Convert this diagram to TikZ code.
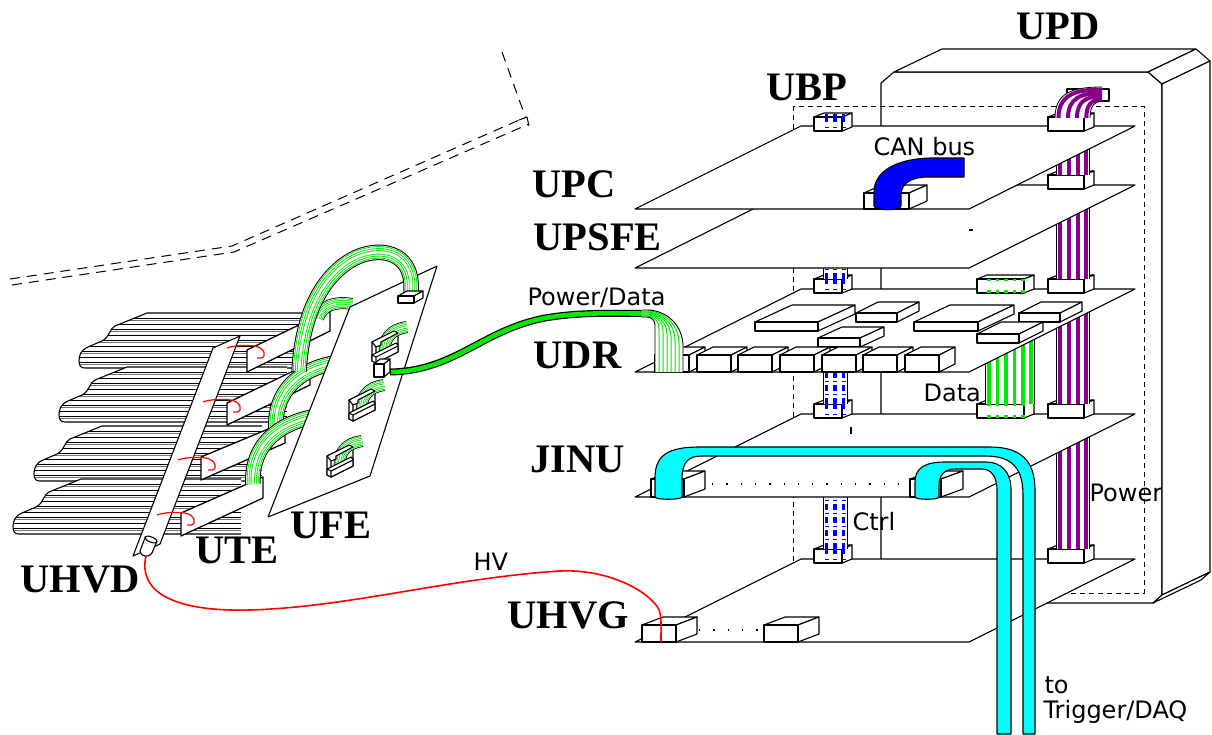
\documentclass[tikz,border=0pt]{standalone}
\usepackage{fontspec}
\setmainfont{Liberation Serif}
\newfontfamily\smallsans{DejaVu Sans}
\usetikzlibrary{calc}

\definecolor{ribgreen}{RGB}{0,235,0}
\definecolor{ribblue}{RGB}{0,0,255}
\definecolor{ribpurple}{RGB}{136,0,136}
\definecolor{cablecyan}{RGB}{0,255,255}
\definecolor{hvred}{RGB}{255,0,0}

\tikzset{
  big/.style={font=\bfseries\fontsize{40.5}{44}\selectfont, inner sep=0pt, anchor=base west},
  small/.style={font=\smallsans\fontsize{24}{26}\selectfont, inner sep=0pt, anchor=base west},
}

% 3-D box: x, y (top of front face), width, height, depth dx, depth dy
\newcommand\pcube[6]{%
  \draw[fill=white] (#1,#2) -- ++(#5,#6) -- ++(#3,0) -- ++({-(#5)},{-(#6)}) -- cycle;
  \draw[fill=white] (#1+#3,#2) -- ++(#5,#6) -- ++(0,#4) -- ++({-(#5)},{-(#6)}) -- cycle;
  \draw[fill=white] (#1,#2) rectangle ++(#3,#4);}
% board of the crate, given the y of its front edge
\newcommand\board[1]{\draw[fill=white] (635,#1) -- (969,#1) -- (1135,#1-83) -- (801,#1-83) -- cycle;}
% connector sitting on the back edge of a board
\newcommand\econn[3]{\pcube{#1}{#3-10}{#2}{14}{10}{-4}}
\newcommand\uconn[1]{\econn{814}{28}{#1}%
  \foreach \c in {826.5,835,843.5}{\fill[ribblue] (\c-1.8,#1-13) rectangle (\c+1.8,#1-5);
    \fill[ribblue] (\c-2,#1) rectangle (\c+2,#1+1);}}
\newcommand\pconn[1]{\econn{1048}{36}{#1}}
\newcommand\dconn[1]{\econn{977}{47}{#1}%
  \foreach \c in {989,997.5,1006,1014.5,1023}{\fill[ribgreen] (\c-1.8,#1-10) rectangle (\c+1.8,#1-8);
    \fill[ribgreen] (\c-1.8,#1+0.5) rectangle (\c+1.8,#1+3.5);}}
% vertical ribbon pieces between boards
\newcommand\pseg[2]{%
  \fill[white] (1056,#1) rectangle (1089,#2);
  \foreach \c in {1060,1069,1077.5,1086}{\fill[ribpurple] (\c-2,#1) rectangle (\c+2,#2);}
  \draw[line width=0.8pt] (1056,#1) -- (1056,#2) (1089,#1) -- (1089,#2);}
\newcommand\bseg[2]{%
  \fill[white] (823,#1) rectangle (847,#2);
  \foreach \c in {826.5,835,843.5}{%
    \draw[ribblue, line width=3.5pt, dash pattern=on 6pt off 7pt] (\c,#2) -- (\c,#1);
    \draw[ribblue, line width=4pt, dash pattern=on 1pt off 12pt, dash phase=4pt] (\c,#2) -- (\c,#1);}
  \draw[line width=0.8pt] (823,#1) -- (823,#2) (847,#1) -- (847,#2);}
\newcommand\gseg[2]{%
  \fill[white] (985,#1) rectangle (1034,#2);
  \foreach \c in {989,997.5,1006,1014.5,1023,1031}{\fill[ribgreen] (\c-1.8,#1) rectangle (\c+1.8,#2);}
  \draw[line width=0.8pt] (985,#1) -- (985,#2) (1034,#1) -- (1034,#2);}
% flat green ribbon along a path
\newcommand\gribbon[1]{%
  \draw[line width=15.5pt, black] #1;
  \draw[line width=13.5pt, white] #1;
  \draw[line width=12.4pt, ribgreen] #1;
  \draw[line width=10.6pt, white] #1;
  \draw[line width=8.4pt, ribgreen] #1;
  \draw[line width=6.6pt, white] #1;
  \draw[line width=4.4pt, ribgreen] #1;
  \draw[line width=2.6pt, white] #1;}
\newcommand\gribbonS[1]{%
  \draw[line width=12pt, black] #1;
  \draw[line width=10.4pt, white] #1;
  \draw[line width=9.4pt, ribgreen] #1;
  \draw[line width=7.8pt, white] #1;
  \draw[line width=6.2pt, ribgreen] #1;
  \draw[line width=4.6pt, white] #1;
  \draw[line width=3pt, ribgreen] #1;
  \draw[line width=1.4pt, white] #1;}
% one ribbed sheet of the detector, top-left corner given
\newcommand\sheetpath{(0,0) -- (-32,13) .. controls (-38,16) and (-37,24) .. (-45,28) -- (-59,34) .. controls (-66,37) and (-68,42) .. (-68,48) .. controls (-68,53) and (-66,55) .. (-62,55)}
\newcommand\sheet[2]{%
  \begin{scope}[shift={(#1,#2)}]
    \fill[white] \sheetpath -- (160,55) -- (160,0) -- cycle;
    \begin{scope}
      \clip \sheetpath -- (160,55) -- (160,0) -- cycle;
      \foreach \k in {1,...,9}{\draw[line width=0.8pt] (-70,5.5*\k) -- (160,5.5*\k);}
      \foreach \k in {1,3,5,7,9}{\draw[black!55, line width=0.8pt] (-70,5.5*\k+1.8) -- (160,5.5*\k+1.8);}
    \end{scope}
    \draw (160,0) -- \sheetpath -- (160,55);
  \end{scope}}
% C-shaped ribbon connector on the front-end board
\newcommand\cconn[2]{%
  \draw[fill=white] (#1,#2+16) -- (#1+22,#2+5) -- (#1+26,#2+7) -- (#1+26,#2+26) -- (#1+4,#2+37) -- (#1,#2+35) -- cycle;
  \gribbonS{(#1+35,#2+1) .. controls (#1+20,#2+3) and (#1+11,#2+12) .. (#1+13,#2+27)}
  \draw[fill=white] (#1,#2+16) -- (#1+22,#2+5) -- (#1+26,#2+7) -- (#1+9,#2+16) -- (#1+9,#2+19) -- (#1+4,#2+21) -- cycle;
  \draw[fill=white] (#1,#2+29) -- (#1+4,#2+27) -- (#1+24,#2+17) -- (#1+26,#2+19) -- (#1+26,#2+26) -- (#1+4,#2+37) -- (#1,#2+35) -- cycle;
  \draw (#1+4,#2+21) -- (#1+4,#2+27) (#1+4,#2+31) -- (#1+26,#2+20) (#1+4,#2+31) -- (#1+4,#2+37) (#1,#2+29) -- (#1+4,#2+31);}
\newcommand\hook[2]{\draw[hvred, line width=1.2pt] (#1,#2) .. controls (#1+8,#2-3) and (#1+20,#2-3) .. (#1+28,#2-2) .. controls (#1+38,#2) and (#1+40,#2+9) .. (#1+34,#2+10) -- (#1+30,#2+10);}

\begin{document}
\begin{tikzpicture}[x=1pt,y=-1pt,line width=1.1pt,line join=round]
\useasboundingbox (0,0) rectangle (1212,734);

% ---------------- outline of the detector envelope
\begin{scope}[line width=1pt, dash pattern=on 10pt off 7pt]
  \draw (10,279) -- (232,246) -- (526,117);
  \draw (12,285) -- (234,252) -- (529,124);
  \draw (502,52) -- (525,116);
\end{scope}
\draw[line width=1pt] (519,120) -- (527,117) -- (529,126);

% ---------------- detector sheets and front end
\sheet{147}{313}
\sheet{127}{367}
\sheet{102}{426}
\sheet{81}{479}

\draw[fill=white, line width=1.3pt] (247,350) -- (330,310) -- (330,331) -- (247,372) -- cycle;
\draw[fill=white, line width=1.3pt] (227,403) -- (310,363) -- (310,385) -- (227,425) -- cycle;
\draw[fill=white, line width=1.3pt] (201,457) -- (285,422) -- (285,443) -- (201,480) -- cycle;
\draw[fill=white, line width=1.3pt] (181,513) -- (263,477) -- (263,498) -- (181,536) -- cycle;

% HV distribution strip with its plug
\draw[fill=white] (213,348) -- (240,336) -- (160,544) -- (133,556) -- cycle;
\draw[fill=white] (145,538) -- (140,551) .. controls (140,557) and (150,558) .. (152,553) -- (157,541);
\draw[fill=white, rotate around={-22:(151,539.5)}] (151,539.5) ellipse (6.5 and 2.6);
\hook{227}{348}
\hook{203}{402}
\hook{178}{460}
\hook{157}{515}

% ribbons from the tail boards going behind the front-end board
\gribbonS{(318,318) .. controls (322,306) and (334,301) .. (352,304)}
\gribbon{(276,428) .. controls (274,398) and (292,371) .. (334,363)}
\gribbon{(253,484) .. controls (251,452) and (270,426) .. (312,417)}

% front-end board
\draw[fill=white] (350,307) -- (437,266) -- (370,476) -- (268,517) -- cycle;
\cconn{372}{326}
\cconn{349}{384}
\cconn{327}{440}

% ribbon over the top of the front-end board
\gribbon{(299,371) .. controls (302,320) and (318,282) .. (348,262) .. controls (372,246) and (408,248) .. (411,282) -- (411,298)}
\pcube{398}{296}{16}{7}{9}{-5}
\pcube{374}{364}{10}{13}{6}{-5}

% ---------------- crate
\draw[fill=white] (881,603) -- (881,83) -- (894,72) -- (1148,72) -- (1162,84) -- (1162,595) -- (1153,603) -- cycle;
\draw[fill=white] (894,72) -- (942,49) -- (1196,49) -- (1148,72) -- cycle;
\draw[fill=white] (1148,72) -- (1196,49) -- (1210,61) -- (1162,84) -- cycle;
\draw[fill=white] (1162,84) -- (1210,61) -- (1210,572) -- (1162,595) -- cycle;
\draw[fill=white] (1162,595) -- (1210,572) -- (1201,580) -- (1153,603) -- cycle;
\draw[line width=1pt, dash pattern=on 5pt off 4pt] (793,106) rectangle (1144,593);

% ---------------- UHVG
\board{642}
\uconn{559}
\pconn{559}
\pcube{642}{625}{34}{17}{21}{-8}
\pcube{764}{625}{34}{17}{21}{-8}
\draw[line width=1.3pt, dash pattern=on 1.3pt off 13pt] (699,630) -- (758,630);
\pseg{414}{549}
\bseg{414}{549}

% ---------------- JINU
\board{497}
\uconn{414}
\pconn{414}
\dconn{414}
\draw (851,427) -- (851,434);
\pcube{651}{479}{33}{18}{21}{-8}
\pcube{910}{479}{31}{18}{22}{-8}
\draw[line width=1.3pt, dash pattern=on 1.3pt off 13pt] (712,484) -- (908,484);
\pseg{289}{404}
\bseg{289}{404}
\gseg{289}{404}

% ---------------- UDR
\board{372}
\uconn{289}
\pconn{289}
\dconn{289}
\pcube{856}{313}{41}{9}{22}{-11}
\pcube{1019}{313}{41}{9}{22}{-11}
\pcube{755}{322}{63}{9}{37}{-17}
\pcube{914}{322}{64}{9}{36}{-17}
\pcube{977}{334}{42}{9}{24}{-12}
\pcube{818}{338}{42}{9}{24}{-11}
\foreach \x in {655,697,738,780,822,863,905}{\pcube{\x}{355}{34}{17}{16}{-8}}
\pseg{185}{279}
\bseg{185}{279}

% ---------------- UPSFE
\board{268}
\pconn{185}
\draw (969,230) -- (973,230);
\pseg{127}{175}

% ---------------- UPC
\board{209}
\uconn{127}
\pconn{127}
\draw[fill=white] (1067,89) rectangle (1109,101);
\fill[white] (1055,118) .. controls (1055,93) and (1072,87) .. (1102,87) -- (1102,101.5) .. controls (1094,101.5) and (1090,106) .. (1090,118) -- cycle;
\begin{scope}[ribpurple, line width=4pt]
  \draw (1058.5,118) .. controls (1058.5,95) and (1075,89.5) .. (1102,89.5);
  \draw (1068,118) .. controls (1068,98) and (1081,93) .. (1102,93);
  \draw (1077,118) .. controls (1077,101) and (1086,96.3) .. (1102,96.3);
  \draw (1086.3,118) .. controls (1086.3,104) and (1092,99.6) .. (1102,99.6);
\end{scope}
\draw[line width=0.8pt] (1055,118) .. controls (1055,93) and (1072,87) .. (1102,87);
\draw[line width=0.8pt] (1090,118) .. controls (1090,106) and (1094,101.5) .. (1102,101.5);
\pcube{864}{193}{45}{16}{18}{-8}
\draw[fill=ribblue] (874,206) -- (874,192) .. controls (874,172) and (895,159) .. (930,158) -- (964,158) -- (964,177) -- (928,177) .. controls (912,177) and (901,183) .. (901,195) -- (901,206) .. controls (901,211) and (874,211) .. (874,206) -- cycle;

% ---------------- power / data cable from the front end to UDR
\draw[line width=7pt] (390,372) .. controls (455,371) and (482,330) .. (545,318) .. controls (580,312) and (610,313.5) .. (644,313.5);
\draw[line width=4.6pt, ribgreen] (391,372) .. controls (455,371) and (482,330) .. (545,318) .. controls (580,312) and (610,313.5) .. (643,313.5);
\fill[white] (642,310) -- (647,310) .. controls (667,310) and (683,326) .. (683,346) -- (683,372) -- (655,372) -- (655,325) .. controls (655,320) and (651,317) .. (647,317) -- (642,317) -- cycle;
\foreach \s in {1,...,6}{%
  \pgfmathsetmacro\yh{310+\s}
  \pgfmathsetmacro\xv{683-4*\s}
  \pgfmathsetmacro\rr{\xv-647}
  \draw[ribgreen, line width=1pt] (641,\yh) -- (647,\yh) .. controls (647+0.55*\rr,\yh) and (\xv,\yh+0.45*\rr) .. (\xv,\yh+\rr) -- (\xv,372);}
\draw[line width=0.9pt] (642,310) -- (647,310) .. controls (667,310) and (683,326) .. (683,346) -- (683,372);
\draw[line width=0.9pt] (642,317) -- (647,317) .. controls (651,317) and (655,320) .. (655,325) -- (655,372);

% ---------------- trigger / DAQ cables from JINU
\draw[fill=cablecyan] (655,497) -- (655,478) .. controls (655,455) and (668,447) .. (700,447) -- (990,447) .. controls (1020,447) and (1035,460) .. (1035,490) -- (1035,734) -- (1023,734) -- (1023,495) .. controls (1023,466) and (1010,456) .. (985,456) -- (702,456) .. controls (688,456) and (682,462) .. (682,480) -- (682,497) .. controls (682,500) and (655,500) .. (655,497) -- cycle;
\draw[fill=cablecyan] (915,497) -- (915,482) .. controls (915,468) and (925,462) .. (945,462) -- (985,462) .. controls (1002,462) and (1011,472) .. (1011,490) -- (1011,734) -- (997,734) -- (997,490) .. controls (997,478) and (992,469) .. (982,469) -- (955,469) .. controls (945,469) and (939,475) .. (939,485) -- (939,497) .. controls (939,500) and (915,500) .. (915,497) -- cycle;

% ---------------- HV cable
\draw[hvred, line width=1.6pt] (146,556) .. controls (138,590) and (170,612) .. (250,610) .. controls (350,607) and (450,578) .. (560,571) .. controls (600,569) and (640,585) .. (656,605) .. controls (662,612) and (661,620) .. (661,642);

% ---------------- labels
\node[big] (upd) at (1016,39) {UPD};
\node[big] (ubp) at (766,100) {UBP};
\node[big] (upc) at (532,197) {UPC};
\node[big] (upsfe) at (533,250) {UPSFE};
\node[big] (udr) at (533,368) {UDR};
\node[big] (jinu) at (530,472) {JINU};
\node[big] (uhvg) at (507,628) {UHVG};
\node[big] (ute) at (195,563) {UTE};
\node[big] (ufe) at (290,538) {UFE};
\node[big] (uhvd) at (20,592) {UHVD};
\node[small] (canbus) at (873,155) {CAN bus};
\node[small] (pwrdata) at (527,305) {Power/Data};
\node[small] (data) at (923,401) {Data};
\node[small] (power) at (1089,501) {Power};
\node[small] (ctrl) at (852,530) {Ctrl};
\node[small] (hv) at (473,570) {HV};
\node[small] (to) at (1044,693) {to};
\node[small] (daq) at (1043,718) {Trigger/DAQ};
\end{tikzpicture}
\end{document}
